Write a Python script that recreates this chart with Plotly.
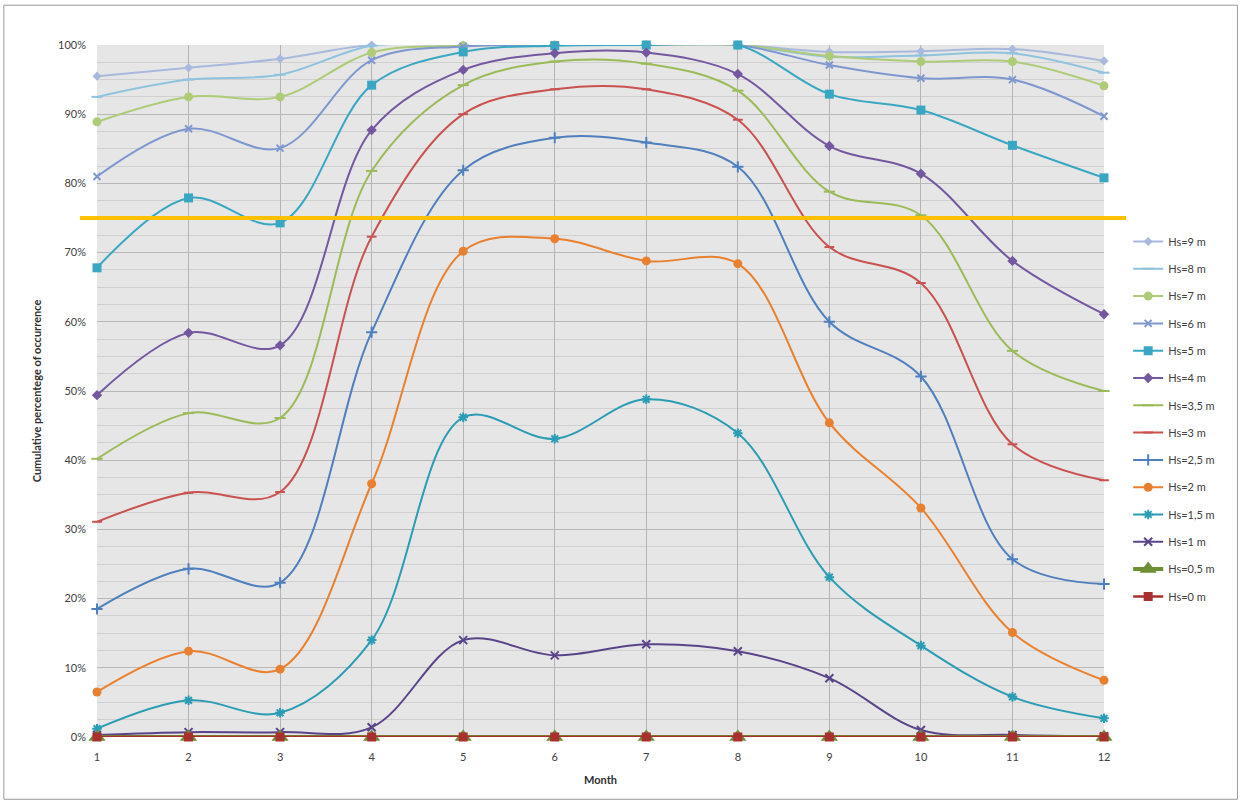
import plotly.graph_objects as go

# Months on the x axis
months = [1, 2, 3, 4, 5, 6, 7, 8, 9, 10, 11, 12]

# Cumulative percentage of occurrence per significant wave height threshold
hs_9m = [95.5, 96.7, 98.0, 100.0, 100.0, 100.0, 100.0, 100.0, 99.0, 99.1, 99.4, 97.7]
hs_8m = [92.5, 95.0, 95.7, 99.9, 100.0, 100.0, 100.0, 100.0, 98.3, 98.5, 98.8, 96.0]
hs_7m = [88.9, 92.5, 92.5, 98.9, 99.9, 100.0, 100.0, 100.0, 98.4, 97.6, 97.6, 94.1]
hs_6m = [81.0, 87.9, 85.1, 97.8, 99.8, 100.0, 100.0, 100.0, 97.1, 95.2, 95.0, 89.7]
hs_5m = [67.8, 77.9, 74.3, 94.2, 99.0, 99.9, 100.0, 100.0, 92.9, 90.6, 85.5, 80.8]
hs_4m = [49.4, 58.4, 56.6, 87.7, 96.4, 98.8, 98.9, 95.8, 85.4, 81.4, 68.8, 61.1]
hs_35m = [40.2, 46.8, 46.1, 81.8, 94.2, 97.6, 97.3, 93.4, 78.8, 75.4, 55.8, 50.0]
hs_3m = [31.1, 35.3, 35.4, 72.3, 90.0, 93.6, 93.6, 89.2, 70.8, 65.6, 42.3, 37.1]
hs_25m = [18.5, 24.3, 22.3, 58.5, 81.9, 86.6, 85.9, 82.4, 60.0, 52.1, 25.7, 22.1]
hs_2m = [6.5, 12.4, 9.8, 36.6, 70.2, 72.0, 68.8, 68.4, 45.4, 33.1, 15.1, 8.2]
hs_15m = [1.2, 5.3, 3.5, 14.0, 46.2, 43.1, 48.8, 43.9, 23.1, 13.2, 5.8, 2.7]
hs_1m = [0.3, 0.7, 0.7, 1.4, 14.0, 11.8, 13.4, 12.4, 8.5, 1.0, 0.3, 0.1]
hs_05m = [0, 0, 0, 0, 0, 0, 0, 0, 0, 0, 0, 0]
hs_0m = [0, 0, 0, 0, 0, 0, 0, 0, 0, 0, 0, 0]

threshold = 75  # reference level drawn as a horizontal line

# name, values, colour, marker symbol, marker size, line width
series = [
    ("Hs=9 m", hs_9m, "#A9B9DD", "diamond", 7, 2),
    ("Hs=8 m", hs_8m, "#8FC3DE", "line-ew", 8, 2),
    ("Hs=7 m", hs_7m, "#AECB78", "circle", 9, 2),
    ("Hs=6 m", hs_6m, "#7E98CF", "x-thin", 7, 2),
    ("Hs=5 m", hs_5m, "#3AA7C2", "square", 9, 2),
    ("Hs=4 m", hs_4m, "#74589F", "diamond", 8, 2),
    ("Hs=3,5 m", hs_35m, "#9BBB59", "line-ew", 8, 2),
    ("Hs=3 m", hs_3m, "#C9514F", "line-ew", 7, 2),
    ("Hs=2,5 m", hs_25m, "#4F7FBD", "cross-thin", 8, 2),
    ("Hs=2 m", hs_2m, "#E9802F", "circle", 9, 2),
    ("Hs=1,5 m", hs_15m, "#2A9CB3", "asterisk-open", 8, 2),
    ("Hs=1 m", hs_1m, "#5A4489", "x-thin", 8, 2),
    ("Hs=0,5 m", hs_05m, "#6E8E33", "triangle-up", 15, 4),
    ("Hs=0 m", hs_0m, "#A8302E", "square", 9, 2.5),
]

fig = go.Figure()
for i, (name, vals, color, symbol, msize, lw) in enumerate(series):
    line_sym = symbol in ("line-ew", "x-thin", "cross-thin", "asterisk-open")
    fig.add_trace(go.Scatter(
        x=months,
        y=vals,
        name=name,
        mode="lines+markers",
        legendgroup=str(i),
        line=dict(color=color, width=lw, shape="spline", smoothing=1.0),
        marker=dict(
            symbol=symbol,
            size=msize,
            color=color,
            line=dict(color=color, width=2 if line_sym else 0),
        ),
        cliponaxis=False,
    ))

# 75 % reference line extending slightly beyond the plot area
fig.add_shape(
    type="line", xref="paper", yref="y",
    x0=-0.017, x1=1.022, y0=threshold, y1=threshold,
    line=dict(color="#FFC000", width=4),
    layer="above",
)

# Outer chart border
fig.add_shape(
    type="rect", xref="paper", yref="paper",
    x0=-0.0925, x1=1.1325, y0=-0.090, y1=1.0575,
    line=dict(color="#9A9A9A", width=1),
    layer="below",
)

fig.update_layout(
    width=1241,
    height=803,
    margin=dict(l=97, r=137, t=45, b=66),
    paper_bgcolor="white",
    plot_bgcolor="#E6E6E6",
    font=dict(family="Lato, 'Open Sans', sans-serif", size=11, color="#404040"),
    showlegend=True,
    legend=dict(
        x=1.024, xanchor="left",
        y=0.737, yanchor="top",
        traceorder="grouped",
        tracegroupgap=8.3,
        font=dict(size=11, color="#404040"),
        bgcolor="rgba(0,0,0,0)",
        itemwidth=30,
    ),
    xaxis=dict(
        range=[1, 12],
        tickmode="array",
        tickvals=months,
        ticktext=[str(m) for m in months],
        showgrid=True,
        gridcolor="#B4B4B4",
        gridwidth=1,
        zeroline=False,
        showline=False,
        ticks="",
        ticklabelstandoff=12,
        tickfont=dict(size=11, color="#404040"),
        title=dict(text="<b>Month</b>", font=dict(size=11, color="#303030"), standoff=14),
    ),
    yaxis=dict(
        range=[0, 100],
        tickmode="linear",
        tick0=0,
        dtick=10,
        ticksuffix="%",
        showgrid=True,
        gridcolor="#B8B8B8",
        gridwidth=1,
        minor=dict(dtick=2.5, showgrid=True, gridcolor="#D0D0D0", gridwidth=1),
        zeroline=False,
        showline=False,
        ticks="",
        ticklabelstandoff=10,
        tickfont=dict(size=11, color="#404040"),
        title=dict(text="<b>Cumulative percentege of occurrence</b>",
                   font=dict(size=11, color="#303030"), standoff=14),
    ),
)

fig.write_html("out.html")
